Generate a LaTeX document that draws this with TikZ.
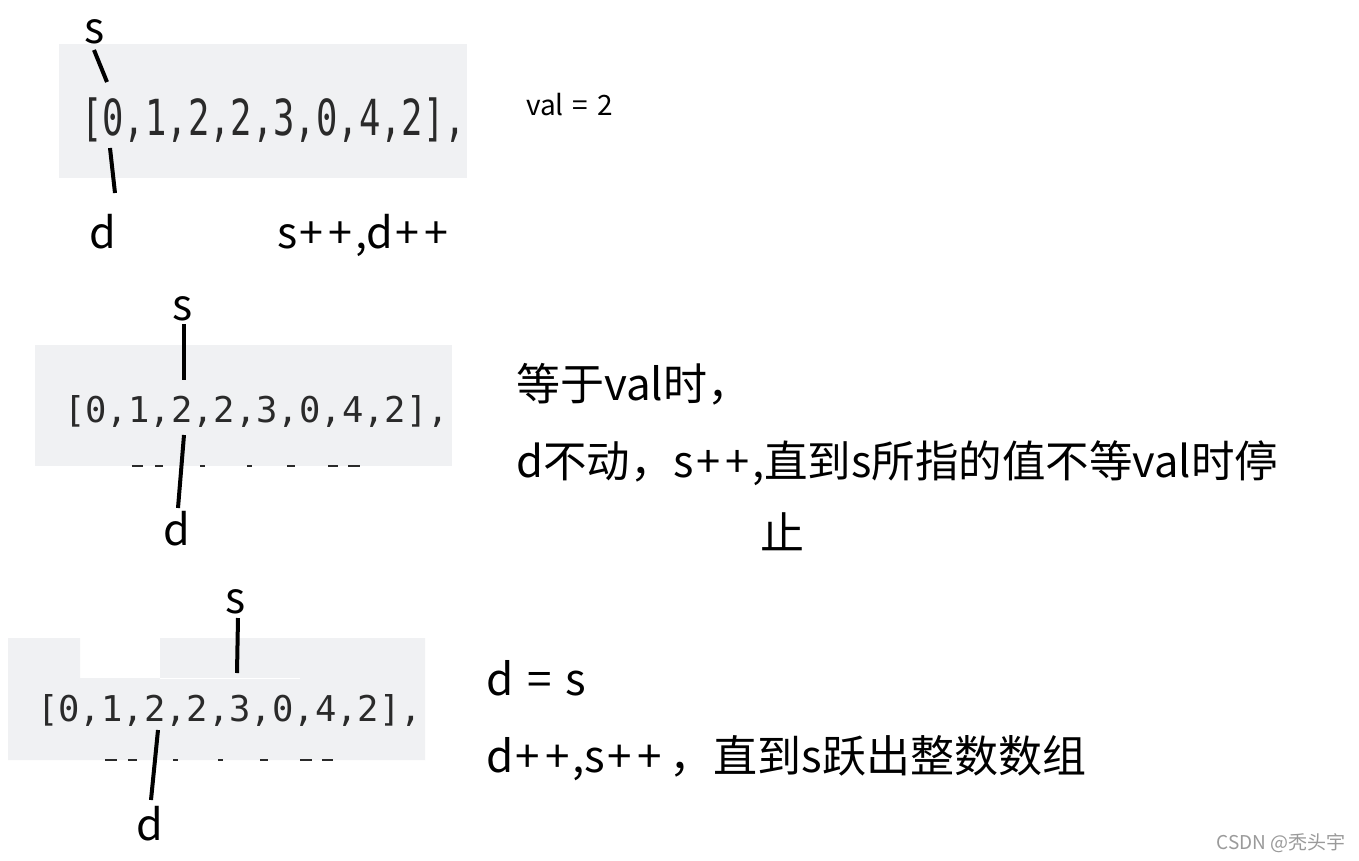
\documentclass[tikz,border=0pt]{standalone}
\usepackage{fontspec}
\setmainfont{Noto Sans CJK SC}
\newfontfamily\monofont{DejaVu Sans Mono}
\definecolor{boxgray}{HTML}{F0F1F3}
\definecolor{arrgray}{HTML}{2A2A2A}
\definecolor{wmgray}{HTML}{9A9A9A}
\newcommand{\pp}{\kern2.5pt+\kern2.5pt}
\begin{document}
\begin{tikzpicture}[x=1pt,y=-1pt,
  lbl/.style={font=\fontsize{43}{50}\selectfont, inner sep=0pt, anchor=base},
  arr/.style={font=\monofont\fontsize{35.5}{40}\selectfont, text=arrgray, inner sep=0pt, anchor=base west},
  txt/.style={font=\fontsize{44}{52}\selectfont, inner sep=0pt, anchor=base west},
  ptr/.style={line width=4pt, black},
  frag/.style={fill=arrgray}]
\useasboundingbox[fill=white] (0,0) rectangle (1359,860);

% ---------- panel 1 ----------
\fill[boxgray] (59,44) rectangle (467,178);
\node[arr] (a1) at (81,135) {\scalebox{1}[1.4]{[0,1,2,2,3,0,4,2],}};
\node[lbl] (s1) at (95,43) {s};
\node[lbl] (d1) at (103,248) {d};
\coordinate (s1a) at (94,50); \coordinate (s1b) at (107,82);
\coordinate (d1a) at (110,148); \coordinate (d1b) at (115,193);
\draw[ptr] (s1a) -- (s1b);
\draw[ptr] (d1a) -- (d1b);
\node[lbl, anchor=base west] (inc1) at (277,248) {s\pp\pp,d\pp\pp};
\node[font=\fontsize{28}{32}\selectfont, inner sep=0pt, anchor=base west] (val) at (526,115) {val\kern9pt=\kern9pt2};

% ---------- panel 2 ----------
\fill[boxgray] (35,345) rectangle (452,466);
\node[arr] (a2) at (64,422) {[0,1,2,2,3,0,4,2],};
\foreach \xa/\xb in {132/143,155/163,200/205,247/252,287/295,328/338,348/360}
  \fill[frag] (\xa,464.5) rectangle (\xb,466.5);
\node[lbl] (s2) at (183,320) {s};
\node[lbl] (d2) at (177,545) {d};
\coordinate (s2a) at (184,324); \coordinate (s2b) at (184,380);
\coordinate (d2a) at (184,435); \coordinate (d2b) at (178,508);
\draw[ptr] (s2a) -- (s2b);
\draw[ptr] (d2a) -- (d2b);
\node[txt] (t21) at (516,400) {等于val时，};
\node[txt, font=\fontsize{43.5}{52}\selectfont] (t22) at (516,477) {d不动，s\pp\pp,直到s所指的值不等val时停};
\node[txt] (t23) at (760,549) {止};

% ---------- panel 3 ----------
\fill[boxgray] (8,638) -- (80,638) -- (80,678) -- (160,678) -- (160,638)
  -- (425,638) -- (425,760) -- (8,760) -- cycle;
\draw[white, line width=1pt] (160,678) -- (300,678);
\node[arr] (a3) at (37,721) {[0,1,2,2,3,0,4,2],};
\foreach \xa/\xb in {105/117,128/137,173/178,218/223,260/268,300/312,322/333}
  \fill[frag] (\xa,758.5) rectangle (\xb,760.5);
\node[lbl] (s3) at (236,613) {s};
\node[lbl] (d3) at (150,840) {d};
\coordinate (s3a) at (238,618); \coordinate (s3b) at (237,673);
\coordinate (d3a) at (158,730); \coordinate (d3b) at (151,800);
\draw[ptr] (s3a) -- (s3b);
\draw[ptr] (d3a) -- (d3b);
\node[txt] (t31) at (486,695) {d\kern14pt=\kern14pt s};
\node[txt] (t32) at (486,772) {d\pp\pp,s\pp\pp\kern6pt，直到s跃出整数数组};

% watermark
\node[font=\fontsize{19}{22}\selectfont, text=wmgray, inner sep=0pt, anchor=base east] (wm) at (1346,849) {CSDN @秃头宇};
\end{tikzpicture}
\end{document}
